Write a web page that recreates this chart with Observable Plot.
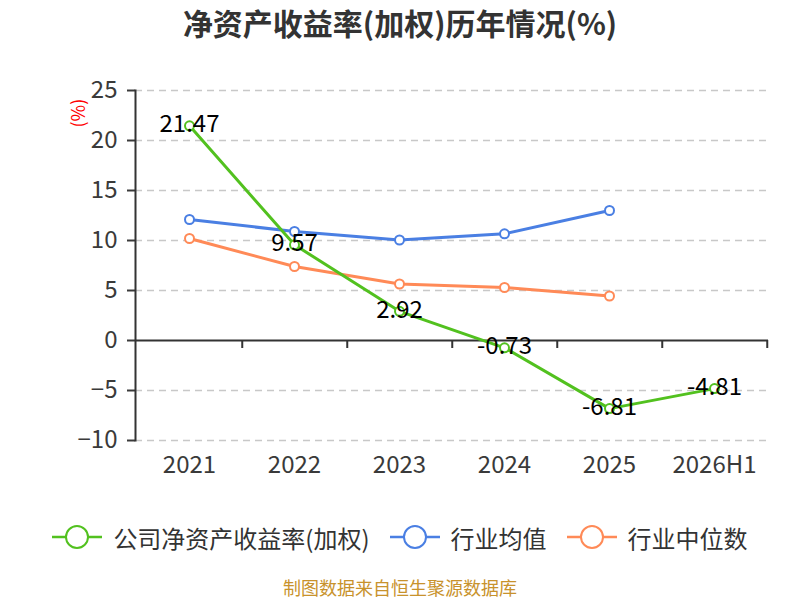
<!DOCTYPE html>
<html>
<head>
<meta charset="utf-8">
<script src="https://cdn.jsdelivr.net/npm/d3@7"></script>
<script src="https://cdn.jsdelivr.net/npm/@observablehq/plot@0.6"></script>
<style>
  html, body { margin: 0; padding: 0; background: #fff; }
  #wrap { position: relative; width: 800px; height: 600px; font-family: "Noto Sans CJK SC", "Noto Sans", sans-serif; }
  #title { position: absolute; left: 0; top: 3px; width: 800px; text-align: center; font-size: 30px; font-weight: bold; color: #333; line-height: 38px; }
  #chart { position: absolute; left: 0; top: 50px; }
  #legend { position: absolute; left: 0; top: 520px; width: 800px; display: flex; justify-content: center; align-items: center; height: 34px; }
  .item { display: flex; align-items: center; margin: 0 10px; font-size: 24px; color: #333; }
  .item svg { margin-right: 11px; }
  #caption { position: absolute; left: 0; top: 575px; width: 800px; text-align: center; font-size: 18px; color: #c8922c; line-height: 24px; }
</style>
</head>
<body>
<div id="wrap">
  <div id="title">净资产收益率(加权)历年情况(%)</div>
  <div id="chart"></div>
  <div id="legend"></div>
  <div id="caption">制图数据来自恒生聚源数据库</div>
</div>
<script>
const categories = ["2021", "2022", "2023", "2024", "2025", "2026H1"];
const companyROE = [21.47, 9.57, 2.92, -0.73, -6.81, -4.81];
const industryAvg = [12.1, 10.9, 10.05, 10.67, 13.0];
const industryMedian = [10.2, 7.4, 5.65, 5.3, 4.45];
const yTicks = [-10, -5, 0, 5, 10, 15, 20, 25];
const seriesNames = ["公司净资产收益率(加权)", "行业均值", "行业中位数"];
const colors = ["#52c11f", "#4a7fe3", "#ff8a57"];

const toRows = vals => vals.map((v, i) => ({ x: categories[i], y: v }));
const company = toRows(companyROE);
const avg = toRows(industryAvg);
const med = toRows(industryMedian);

const W = 800, H = 430, mL = 135, mR = 32, mT = 40, mB = 40;
const step = (W - mL - mR) / categories.length;

const chart = Plot.plot({
  width: W, height: H,
  marginLeft: mL, marginRight: mR, marginTop: mT, marginBottom: mB,
  style: { fontFamily: "'Noto Sans CJK SC', 'Noto Sans', sans-serif", background: "transparent", overflow: "visible" },
  x: { type: "point", domain: categories, padding: 0.5 },
  y: { domain: [-10, 25] },
  marks: [
    Plot.gridY(yTicks.filter(d => d !== 0), { stroke: "#c8c8c8", strokeOpacity: 1, strokeWidth: 1.5, strokeDasharray: "7,5" }),
    Plot.axisY(yTicks, { tickSize: 8, tickPadding: 10, fontSize: 24, color: "#3a3a3a", label: null, strokeWidth: 2 }),
    Plot.axisX({ tickSize: 0, tickPadding: 15, fontSize: 24, color: "#3a3a3a", label: null }),
    Plot.frame({ anchor: "left", stroke: "#333", strokeWidth: 2 }),
    Plot.ruleY([0], { stroke: "#333", strokeWidth: 2 }),
    Plot.ruleX(categories, { x: d => d, y1: 0, y2: -0.8, dx: step / 2, stroke: "#333", strokeWidth: 2 }),
    Plot.line(avg, { x: "x", y: "y", stroke: colors[1], strokeWidth: 3 }),
    Plot.line(med, { x: "x", y: "y", stroke: colors[2], strokeWidth: 3 }),
    Plot.line(company, { x: "x", y: "y", stroke: colors[0], strokeWidth: 3 }),
    Plot.dot(avg, { x: "x", y: "y", r: 4.5, fill: "white", stroke: colors[1], strokeWidth: 2 }),
    Plot.dot(med, { x: "x", y: "y", r: 4.5, fill: "white", stroke: colors[2], strokeWidth: 2 }),
    Plot.dot(company, { x: "x", y: "y", r: 4.5, fill: "white", stroke: colors[0], strokeWidth: 2 }),
    Plot.text(company, { x: "x", y: "y", text: d => d.y.toFixed(2), fontSize: 24, fill: "#000", dy: -1 }),
    Plot.text(["(%)"], { frameAnchor: "top-left", dx: -63, dy: 37, rotate: -90, fill: "red", fontSize: 18 })
  ]
});
document.getElementById("chart").appendChild(chart);

const legend = document.getElementById("legend");
seriesNames.forEach((name, i) => {
  const item = document.createElement("div");
  item.className = "item";
  item.innerHTML = `<svg width="50" height="28" viewBox="0 0 50 28">
      <line x1="0" y1="14" x2="50" y2="14" stroke="${colors[i]}" stroke-width="2.5"/>
      <circle cx="25" cy="14" r="11" fill="white" stroke="${colors[i]}" stroke-width="2"/>
    </svg><span>${name}</span>`;
  legend.appendChild(item);
});
</script>
</body>
</html>
